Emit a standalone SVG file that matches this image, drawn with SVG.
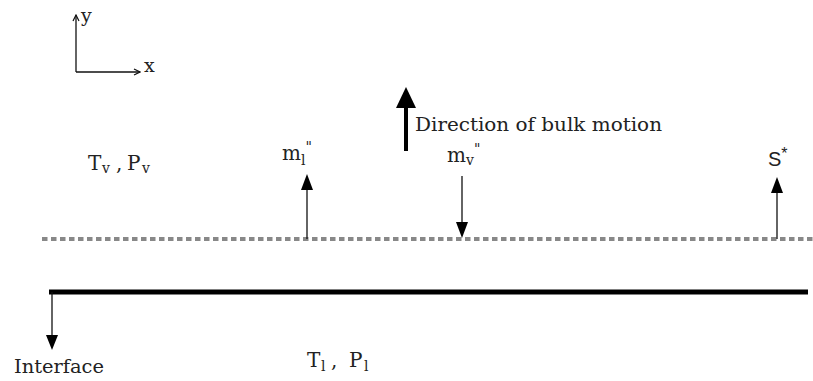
<svg xmlns="http://www.w3.org/2000/svg" width="813" height="381" viewBox="0 0 813 381">
<style>
text{font-family:"DejaVu Serif","Liberation Serif",serif;font-size:20px;fill:#222}
.body{font-size:19px}
.sub{font-size:14px}
.sans{font-family:"Liberation Sans","DejaVu Sans",sans-serif;font-size:20px}
.thin{stroke:#111;stroke-width:1.3;fill:none}
</style>
<defs>
<marker id="small" markerWidth="8" markerHeight="8" refX="7" refY="4" orient="auto" markerUnits="userSpaceOnUse" viewBox="0 0 8 8">
<path d="M1,1 L7,4 L1,7" fill="none" stroke="#111" stroke-width="1.2"/>
</marker>
</defs>
<g id="axes">
<line x1="76" y1="72" x2="76" y2="15" class="thin" marker-end="url(#small)"/>
<line x1="76" y1="72" x2="140" y2="72" class="thin" marker-end="url(#small)"/>
<text x="81" y="22" style="font-size:19px">y</text>
<text x="144" y="72" style="font-size:19px">x</text>
</g>
<g id="lines">
<line x1="42" y1="239" x2="813" y2="239" stroke="#888" stroke-width="4" stroke-dasharray="5.5 3.5"/>
<line x1="49" y1="292" x2="808" y2="292" stroke="#000" stroke-width="5"/>
</g>
<g id="connectors">
<line x1="406" y1="151" x2="406" y2="104" stroke="#000" stroke-width="4"/>
<path d="M396,108 L406,87 L416,108 Z" fill="#000"/>
<line x1="307" y1="239" x2="307" y2="186" class="thin"/>
<path d="M301,190 L307,174 L313,190 Z" fill="#000"/>
<line x1="462" y1="176" x2="462" y2="226" class="thin"/>
<path d="M456,222 L462,238 L468,222 Z" fill="#000"/>
<line x1="777" y1="239" x2="777" y2="190" class="thin"/>
<path d="M771,193 L777,177 L783,193 Z" fill="#000"/>
<line x1="52" y1="292" x2="52" y2="340" class="thin"/>
<path d="M46,335 L52,350 L58,335 Z" fill="#000"/>
</g>
<g id="label-bulk"><text class="body" x="415" y="131" textLength="247" lengthAdjust="spacingAndGlyphs">Direction of bulk motion</text></g>
<g id="label-tv"><text x="88" y="170">T<tspan class="sub" x="102" dy="3">v</tspan><tspan x="116" dy="-3">,</tspan><tspan x="127">P</tspan><tspan class="sub" x="142" dy="3">v</tspan></text></g>
<g id="label-ml"><text x="282" y="160">m<tspan class="sub" dy="5">l</tspan><tspan class="sub" dy="-13">"</tspan></text></g>
<g id="label-mv"><text x="447" y="162">m<tspan class="sub" dy="3">v</tspan><tspan class="sub" dy="-11">"</tspan></text></g>
<g id="label-s"><text x="768" y="166" class="sans">S<tspan style="font-size:16px" dy="-7">*</tspan></text></g>
<g id="label-interface"><text class="body" x="14" y="373" textLength="90" lengthAdjust="spacingAndGlyphs">Interface</text></g>
<g id="label-tl"><text x="307" y="367">T<tspan class="sub" x="321" dy="4">l</tspan><tspan x="331" dy="-4">,</tspan><tspan x="349">P</tspan><tspan class="sub" x="364" dy="4">l</tspan></text></g>
</svg>
